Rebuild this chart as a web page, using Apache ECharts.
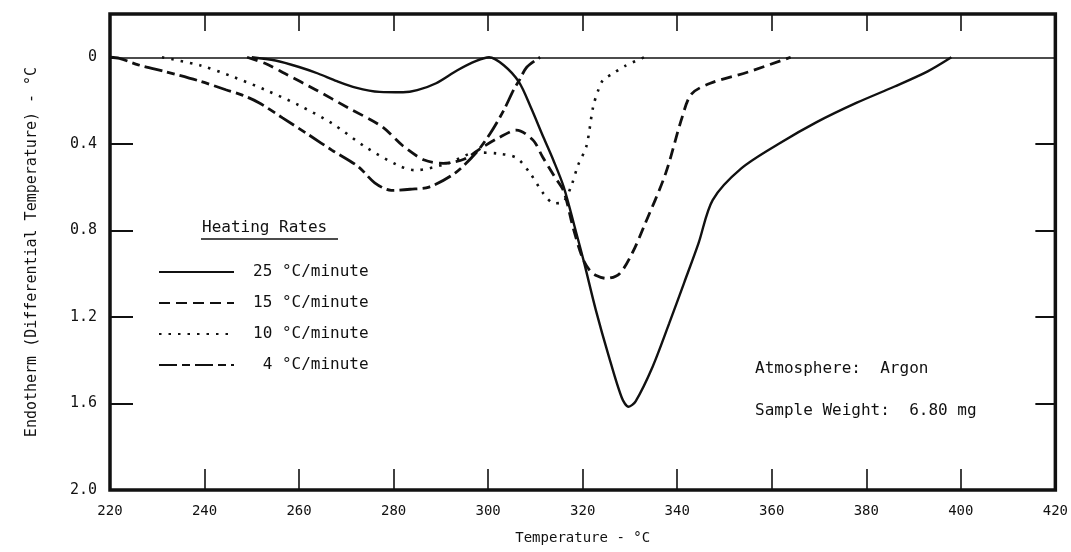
<!DOCTYPE html>
<html>
<head>
<meta charset="utf-8">
<script src="https://cdn.jsdelivr.net/npm/echarts@6/dist/echarts.min.js"></script>
<style>
  html, body { margin: 0; padding: 0; background: #fff; }
  #dta { width: 1071px; height: 552px; }
</style>
</head>
<body>
<div id="dta"></div>
<script>
// 读图得到的数据 (温度 °C, 吸热 °C)
const temp25 = [250, 255, 260, 264, 268, 272, 277, 282, 285, 289, 293.5, 297.5, 300.2, 303.3, 306.5, 309, 311.7, 313.8, 316, 318.5, 320.2, 322.8, 325.5, 328.3, 329.7, 331.2, 334.8, 338.3, 341.5, 344.5, 347.5, 353.5, 361.5, 369.5, 378, 386, 393, 398];
const endo25 = [0, 0.015, 0.045, 0.075, 0.11, 0.14, 0.16, 0.162, 0.152, 0.12, 0.06, 0.017, 0, 0.037, 0.114, 0.23, 0.37, 0.476, 0.6, 0.8, 0.94, 1.17, 1.38, 1.575, 1.615, 1.59, 1.43, 1.23, 1.04, 0.86, 0.66, 0.515, 0.4, 0.3, 0.21, 0.135, 0.065, 0];

const temp15 = [249, 253, 257, 263.5, 270.5, 277.5, 282, 286.5, 290.5, 295, 298.5, 302, 306, 309.5, 311.5, 314, 316, 318, 320, 321.5, 323, 325, 327.8, 330.6, 333, 337.5, 341, 343, 347, 355, 364];
const endo15 = [0, 0.03, 0.075, 0.15, 0.235, 0.32, 0.41, 0.475, 0.49, 0.47, 0.42, 0.375, 0.337, 0.383, 0.46, 0.55, 0.62, 0.79, 0.93, 0.985, 1.01, 1.022, 1.0, 0.9, 0.78, 0.54, 0.28, 0.17, 0.12, 0.068, 0];

const temp10 = [231, 239, 246, 253, 260, 267, 274, 281, 284.5, 291.5, 297.5, 302, 306, 309, 311.7, 314, 315.8, 317.5, 319, 320.8, 322.2, 323.3, 324.3, 326.4, 329, 333];
const endo10 = [0, 0.037, 0.09, 0.152, 0.222, 0.306, 0.414, 0.5, 0.522, 0.49, 0.44, 0.445, 0.465, 0.54, 0.63, 0.675, 0.67, 0.6, 0.5, 0.41, 0.23, 0.152, 0.106, 0.075, 0.04, 0];

const temp4 = [220, 222, 226, 232, 239, 244.5, 248, 251.5, 256.5, 262.5, 267, 272.5, 276, 279.5, 283.5, 287.5, 293, 297.5, 300.5, 303.3, 305.4, 306.5, 308.2, 311];
const endo4 = [0, 0.005, 0.035, 0.068, 0.11, 0.15, 0.175, 0.21, 0.28, 0.365, 0.43, 0.505, 0.58, 0.615, 0.61, 0.6, 0.535, 0.44, 0.35, 0.245, 0.15, 0.11, 0.045, 0];

const rateNames = ['25 °C/minute', '15 °C/minute', '10 °C/minute', ' 4 °C/minute'];
const yLabelValues = [0, 0.4, 0.8, 1.2, 1.6, 2.0];
const yTickValues = [0.4, 0.8, 1.2, 1.6];

const ink = '#111';
const mono = 'DejaVu Sans Mono';

function pairs(xs, ys) {
  return xs.map((x, i) => [x, ys[i]]);
}

function curve(name, xs, ys, dash, width) {
  return {
    name: name,
    type: 'line',
    data: pairs(xs, ys),
    symbol: 'none',
    smooth: 0.3,
    color: ink,
    lineStyle: { color: ink, width: width, type: dash, cap: 'butt' },
    silent: true,
    z: 3
  };
}

let myChart = echarts.init(document.getElementById('dta'));

let series = [
  curve(rateNames[0], temp25, endo25, 'solid', 2.4),
  curve(rateNames[1], temp15, endo15, [11, 6], 2.8),
  curve(rateNames[2], temp10, endo10, [2.5, 7], 2.6),
  curve(rateNames[3], temp4, endo4, [18, 5, 8, 5], 2.8)
];
// 零线
series[0].markLine = {
  silent: true,
  symbol: 'none',
  label: { show: false },
  lineStyle: { color: ink, width: 1.5, type: 'solid' },
  data: [{ yAxis: 0 }]
};

let option = {
  animation: false,
  backgroundColor: '#fff',
  textStyle: { fontFamily: mono, color: ink },
  grid: {
    left: 110, right: 9, top: 14, bottom: 62,
    show: true, borderColor: ink, borderWidth: 3.5
  },
  legend: {
    orient: 'vertical',
    left: 153,
    top: 259,
    itemWidth: 75,
    itemHeight: 14,
    itemGap: 15,
    selectedMode: false,
    itemStyle: { opacity: 0 },
    textStyle: { fontFamily: mono, fontSize: 16, color: ink, padding: [0, 0, 0, 14] },
    data: rateNames
  },
  xAxis: [{
    type: 'value',
    min: 220, max: 420, interval: 20,
    position: 'bottom',
    name: 'Temperature - °C',
    nameLocation: 'middle',
    nameGap: 41,
    nameTextStyle: { fontFamily: mono, fontSize: 14, color: ink },
    axisLine: { show: false, onZero: false },
    axisTick: { show: true, inside: true, length: 21, lineStyle: { color: ink, width: 1.6 } },
    axisLabel: { fontFamily: mono, fontSize: 14, color: ink, margin: 14 },
    splitLine: { show: false }
  }, {
    type: 'value',
    min: 220, max: 420, interval: 20,
    position: 'top',
    axisLine: { show: false, onZero: false },
    axisTick: { show: true, inside: true, length: 17, lineStyle: { color: ink, width: 1.6 } },
    axisLabel: { show: false },
    splitLine: { show: false }
  }],
  yAxis: [{
    type: 'value',
    inverse: true,
    min: -0.2, max: 2.0,
    position: 'left',
    name: 'Endotherm (Differential Temperature) - °C',
    nameLocation: 'middle',
    nameRotate: 90,
    nameGap: 70,
    nameTextStyle: { fontFamily: mono, fontSize: 15, color: ink },
    axisLine: { show: false, onZero: false },
    axisTick: { show: true, inside: true, length: 23, customValues: yTickValues, lineStyle: { color: ink, width: 2 } },
    axisLabel: {
      fontFamily: mono, fontSize: 15, color: ink, margin: 13,
      customValues: yLabelValues,
      formatter: v => v === 0 ? '0' : v.toFixed(1)
    },
    splitLine: { show: false }
  }, {
    type: 'value',
    inverse: true,
    min: -0.2, max: 2.0,
    position: 'right',
    axisLine: { show: false, onZero: false },
    axisTick: { show: true, inside: true, length: 20, customValues: yTickValues, lineStyle: { color: ink, width: 2 } },
    axisLabel: { show: false },
    splitLine: { show: false }
  }],
  graphic: [
    { type: 'text', left: 202, top: 220, style: { text: 'Heating Rates', font: '16px "DejaVu Sans Mono"', fill: ink } },
    { type: 'line', shape: { x1: 201, y1: 239, x2: 338, y2: 239 }, style: { stroke: ink, lineWidth: 1.3 } },
    { type: 'text', left: 755, top: 361, style: { text: 'Atmosphere:  Argon', font: '16px "DejaVu Sans Mono"', fill: ink } },
    { type: 'text', left: 755, top: 403, style: { text: 'Sample Weight:  6.80 mg', font: '16px "DejaVu Sans Mono"', fill: ink } }
  ],
  series: series
};

myChart.setOption(option);
</script>
</body>
</html>
